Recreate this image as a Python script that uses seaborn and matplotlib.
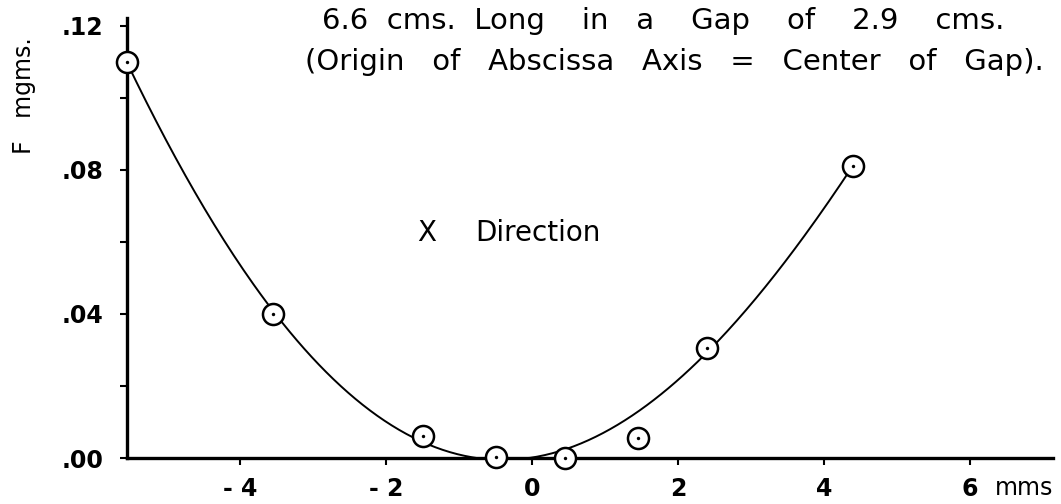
import numpy as np
import pandas as pd
import matplotlib
matplotlib.use("Agg")
import matplotlib.pyplot as plt
import seaborn as sns

# Measured force vs. displacement (X direction)
x_mms = [-5.55, -3.55, -1.5, -0.5, 0.45, 1.45, 2.4, 4.4]
f_mgms = [0.110, 0.040, 0.006, 0.0003, 0.0, 0.0056, 0.0306, 0.081]
# the reading at +1.45 mm is treated as an outlier when fitting
fit_weight = [1, 1, 1, 1, 1, 0.2, 1, 1]

x_ticks = [-4, -2, 0, 2, 4, 6]
x_tick_labels = ["- 4", "- 2", "0", "2", "4", "6"]
y_ticks = [0.00, 0.02, 0.04, 0.06, 0.08, 0.10, 0.12]
y_tick_labels = [".00", "", ".04", "", ".08", "", ".12"]

title_lines = ["6.6  cms.  Long    in   a    Gap    of    2.9    cms.",
               "(Origin   of   Abscissa   Axis   =   Center   of   Gap)."]

sns.set_theme(style="ticks")
plt.rcParams["font.family"] = ["DejaVu Sans"]
plt.rcParams["text.color"] = "black"

df = pd.DataFrame({"x": x_mms, "F": f_mgms})

# smooth fitted curve through the measurements (force cannot go negative)
coef = np.polyfit(df["x"], df["F"], 4, w=fit_weight)
xs = np.linspace(min(x_mms), max(x_mms), 300)
fit = pd.DataFrame({"x": xs, "F": np.maximum(np.polyval(coef, xs), 0.0)})

fig = plt.figure(figsize=(10.61, 5.04), dpi=100)
ax = fig.add_axes([127 / 1061, 1 - 458 / 504, (1053 - 127) / 1061, (458 - 18) / 504])

sns.lineplot(data=fit, x="x", y="F", ax=ax, color="black", linewidth=1.4,
             zorder=2, clip_on=False)
sns.scatterplot(data=df, x="x", y="F", ax=ax, s=230, marker="o",
                facecolor="white", edgecolor="black", linewidth=1.8,
                zorder=3, clip_on=False)
sns.scatterplot(data=df, x="x", y="F", ax=ax, s=6, marker="o",
                color="black", linewidth=0, zorder=4, clip_on=False)

ax.set_xlim(-5.55, 7.14)
ax.set_ylim(0, 0.1222)
ax.set_xticks(x_ticks)
ax.set_xticklabels(x_tick_labels, fontsize=17, fontweight="bold")
ax.set_yticks(y_ticks)
ax.set_yticklabels(y_tick_labels, fontsize=17, fontweight="bold")
ax.tick_params(axis="both", direction="out", length=5, width=1.5,
               color="black", labelcolor="black")
ax.tick_params(axis="x", pad=9)
ax.tick_params(axis="y", pad=12)
sns.despine(ax=ax)
for side in ("left", "bottom"):
    ax.spines[side].set_linewidth(2.4)
    ax.spines[side].set_color("black")
ax.set_xlabel("")
ax.set_ylabel("")

ax.annotate("mms", xy=(6.74, 0), xycoords=("data", "axes fraction"),
            xytext=(0, -30), textcoords="offset pixels", ha="center",
            va="center", fontsize=17, color="black")

fig.text(24 / 1061, 1 - 96 / 504, "F   mgms.", rotation=90, ha="center",
         va="center", fontsize=17, color="black")

fig.text(322 / 1061, 1 - 21 / 504, title_lines[0], ha="left", va="center",
         fontsize=21, color="black")
fig.text(305 / 1061, 1 - 62 / 504, title_lines[1], ha="left", va="center",
         fontsize=21, color="black")

fig.text(427 / 1061, 1 - 233 / 504, "X", ha="center", va="center",
         fontsize=20, color="black")
fig.text(538 / 1061, 1 - 233 / 504, "Direction", ha="center", va="center",
         fontsize=20, color="black")

fig.savefig("out.png", dpi=100, facecolor="white")
